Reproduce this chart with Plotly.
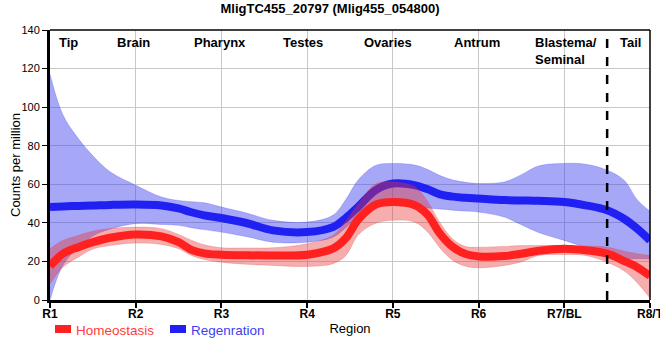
import plotly.graph_objects as go

# ---- data ----
region_ticks = [1, 2, 3, 4, 5, 6, 7, 8]
region_tick_labels = ["R1", "R2", "R3", "R4", "R5", "R6", "R7/BL", "R8/T"]
tissue_labels = ["Tip", "Brain", "Pharynx", "Testes", "Ovaries", "Antrum", "Blastema/<br>Seminal", "Tail"]
tissue_positions = [1.21, 1.97, 2.98, 3.95, 4.94, 5.98, 6.64, 7.77]
tail_boundary = 7.5

x_pos = [1, 1.15, 1.33, 1.5, 1.7, 2, 2.3, 2.5, 2.65, 2.8, 3, 3.3, 3.6, 4, 4.3, 4.45, 4.6, 4.8,
         5, 5.25, 5.4, 5.55, 5.7, 5.85, 6, 6.3, 6.5, 6.7, 7, 7.25, 7.5, 7.7, 7.85, 8]

homeo_mean = [17.5, 24, 27.4, 30, 32.3, 34, 33, 30, 26, 24.2, 23.5, 23.2, 23.1, 23.5, 26.6, 32, 42, 49.5,
              50.8, 49.3, 44.5, 34.4, 27.5, 23.8, 22.6, 22.8, 24, 25.5, 26.6, 25.8, 24, 20.2, 17, 12.5]
homeo_upper = [26.6, 30.9, 33.5, 35.7, 37, 37.8, 37, 34, 31, 28.6, 27.1, 27, 27.1, 29.2, 33.5, 41, 50, 60.2,
               61.2, 58.8, 51.5, 40, 31.5, 27.7, 27.4, 27.8, 28.2, 28.3, 28.3, 28, 27.4, 25.3, 24, 23.1]
homeo_lower = [8.4, 17, 22.2, 26.4, 28.2, 29.5, 28.8, 26.6, 23.1, 21, 19.6, 18.5, 17.9, 17.4, 18.8, 23, 34, 39.8,
               41.3, 40.5, 35.5, 27, 20.5, 17.5, 16.7, 17.9, 19.8, 23.1, 23.6, 23.1, 19.6, 15, 9, 1]

regen_mean = [48.2, 48.5, 48.8, 49, 49.3, 49.5, 49, 47.5, 45.5, 43.9, 42.5, 39.8, 36.1, 35.2, 37.8, 42.5, 48.5, 57,
              60.4, 59.6, 57.5, 54.8, 53.6, 53, 52.6, 51.8, 51.6, 51.4, 50.8, 49.1, 46.5, 42, 37, 30.9]
regen_upper = [117, 96, 83.7, 74.8, 66.5, 59.5, 53.4, 51.6, 51, 50.4, 48.2, 45, 41.3, 40.4, 43.9, 52, 62.5, 69.8,
               70.8, 70, 67.8, 64.5, 62.2, 61, 60.4, 61.2, 65, 69.5, 70.8, 70.4, 67.3, 62, 52, 46]
regen_lower = [0, 18, 27.4, 33.2, 36.8, 39.6, 39.2, 38.7, 37.5, 36.5, 35.2, 32.8, 30, 30, 32.6, 37.5, 43.5, 48,
               49, 48.2, 47.7, 47.2, 46.6, 46.1, 45.6, 43, 39, 35, 30.9, 27.4, 24, 21.6, 21.4, 21.4]

series_names = ["Homeostasis", "Regenration"]

# ---- styles ----
RED = "#ff2020"
BLUE = "#2020f2"
RED_FILL = "rgba(230,50,50,0.40)"
BLUE_FILL = "rgba(60,60,240,0.45)"
FONT = "Liberation Sans, Arial, sans-serif"

fig = go.Figure()

def band(upper, lower, fill):
    fig.add_trace(go.Scatter(x=x_pos, y=upper, mode="lines", line=dict(width=0.6, color=fill, shape="spline", smoothing=1),
                             hoverinfo="skip", showlegend=False))
    fig.add_trace(go.Scatter(x=x_pos, y=lower, mode="lines", line=dict(width=0.6, color=fill, shape="spline", smoothing=1),
                             fill="tonexty", fillcolor=fill, hoverinfo="skip", showlegend=False))

band(regen_upper, regen_lower, BLUE_FILL)
fig.add_trace(go.Scatter(x=x_pos, y=regen_mean, mode="lines", name=series_names[1],
                         line=dict(width=8, color=BLUE, shape="spline", smoothing=1), showlegend=False))
band(homeo_upper, homeo_lower, RED_FILL)
fig.add_trace(go.Scatter(x=x_pos, y=homeo_mean, mode="lines", name=series_names[0],
                         line=dict(width=8, color=RED, shape="spline", smoothing=1), showlegend=False))

# dashed tail boundary
fig.add_shape(type="line", xref="x", yref="paper", x0=tail_boundary, x1=tail_boundary, y0=0, y1=1,
              line=dict(color="black", width=2.5, dash="dash"))
# top and right border
fig.add_shape(type="line", xref="paper", yref="paper", x0=0, x1=1, y0=1, y1=1, line=dict(color="black", width=1.5))
fig.add_shape(type="line", xref="paper", yref="paper", x0=1, x1=1, y0=0, y1=1, line=dict(color="black", width=1.5))

# tissue labels
for lab, pos in zip(tissue_labels, tissue_positions):
    fig.add_annotation(x=pos, y=1, xref="x", yref="paper", yshift=-3, text="<b>" + lab + "</b>",
                       showarrow=False, xanchor="center" if "<br>" not in lab else "left",
                       yanchor="top", align="left",
                       font=dict(family=FONT, size=13, color="black"))

# y axis title
fig.add_annotation(xref="paper", yref="paper", x=(15 - 50) / 600, y=0.5, text="Counts per million",
                   textangle=-90, showarrow=False, xanchor="center", yanchor="middle",
                   font=dict(family=FONT, size=13, color="black"))

# manual legend
legend_items = [(series_names[0], RED, "#ff3c3c", 55), (series_names[1], BLUE, "#4040f0", 170)]
for name, col, tcol, px in legend_items:
    fig.add_shape(type="rect", xref="paper", yref="paper",
                  x0=(px - 50) / 600, x1=(px - 50 + 16) / 600,
                  y0=-(325 - 300) / 270, y1=-(333 - 300) / 270,
                  line=dict(width=0), fillcolor=col)
    fig.add_annotation(xref="paper", yref="paper", x=(px - 50 + 19) / 600, y=-(330 - 300) / 270,
                       text=name, showarrow=False, xanchor="left", yanchor="middle",
                       font=dict(family=FONT, size=13.5, color=tcol))

fig.update_layout(
    width=660, height=360,
    margin=dict(l=50, r=10, t=30, b=60),
    paper_bgcolor="white", plot_bgcolor="white",
    title=dict(text="<b>MligTC455_20797 (Mlig455_054800)</b>", x=0.5, xanchor="center",
               y=1 - 8.5 / 360, yanchor="middle", yref="container",
               font=dict(family=FONT, size=13, color="black")),
    font=dict(family=FONT, size=12, color="black"),
    showlegend=False,
)
fig.update_xaxes(range=[1, 8], tickvals=region_ticks,
                 ticktext=["<b>" + t + "</b>" for t in region_tick_labels],
                 showgrid=True, gridcolor="#c8c8c8", gridwidth=1,
                 showline=True, linecolor="black", linewidth=3,
                 ticks="outside", ticklen=5, tickcolor="black", tickwidth=2,
                 ticklabelstandoff=-4, ticklabeloverflow="allow",
                 tickfont=dict(family=FONT, size=12, color="black"),
                 title=dict(text="Region", standoff=4, font=dict(family=FONT, size=13, color="black")),
                 zeroline=False, automargin=False)
fig.update_yaxes(range=[0, 140], tickvals=[0, 20, 40, 60, 80, 100, 120, 140],
                 showgrid=True, gridcolor="#c8c8c8", gridwidth=1,
                 showline=True, linecolor="black", linewidth=3,
                 ticks="outside", ticklen=5, tickcolor="black", tickwidth=1,
                 tickfont=dict(family=FONT, size=11, color="black"),
                 zeroline=False, automargin=False)

fig.write_html("out.html", config={"displayModeBar": False},
               post_script="document.body.style.margin='0';document.body.style.overflow='hidden';")
